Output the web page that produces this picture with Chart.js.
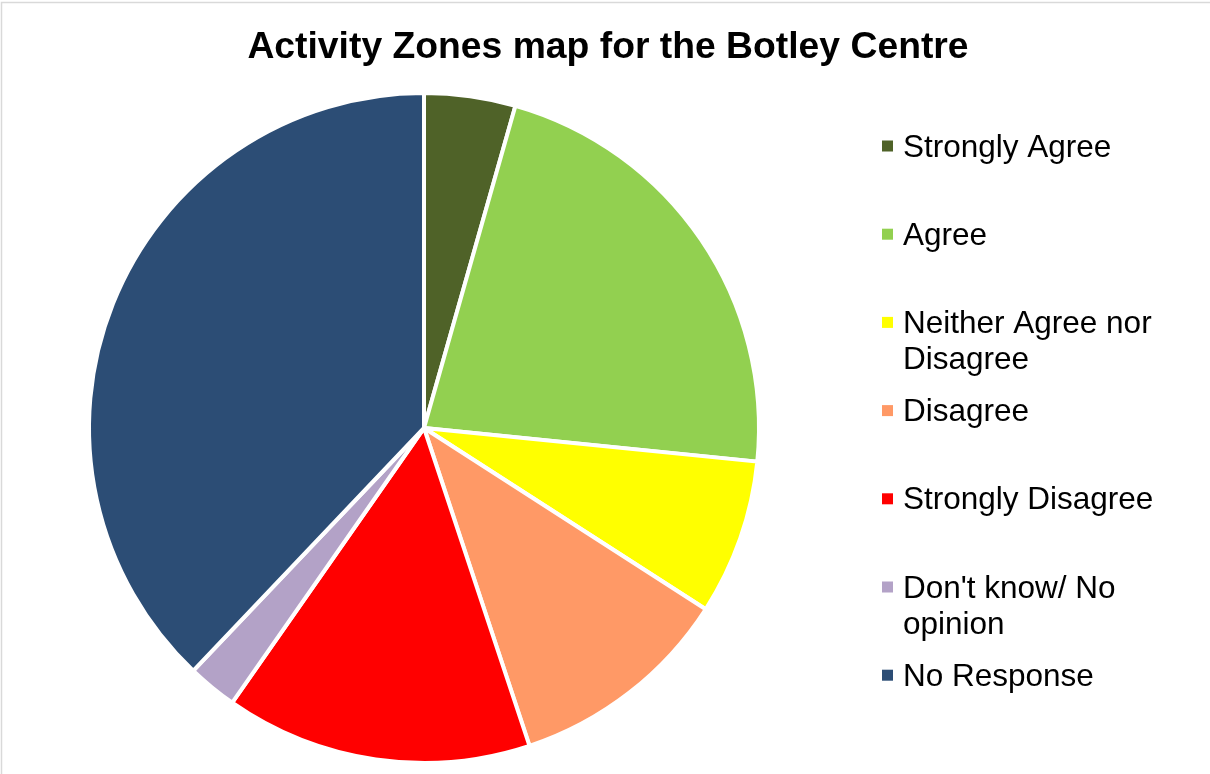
<!DOCTYPE html>
<html>
<head>
<meta charset="utf-8">
<script src="https://cdn.jsdelivr.net/npm/chart.js@4/dist/chart.umd.min.js"></script>
<style>
  html, body { margin: 0; padding: 0; background: #fff; }
  #wrap { width: 1210px; height: 774px; position: relative; }
</style>
</head>
<body>
<div id="wrap"><canvas id="myChart"></canvas></div>
<script>
const chartTitle = 'Activity Zones map for the Botley Centre';
const categories = [
    'Strongly Agree',
    'Agree',
    'Neither Agree nor Disagree',
    'Disagree',
    'Strongly Disagree',
    "Don't know/ No opinion",
    'No Response'
];
const shares = [4.4, 22.2, 7.5, 10.8, 14.8, 2.4, 37.9];
const sliceColors = [
    '#4F6228',
    '#92D050',
    '#FFFF00',
    '#FF9966',
    '#FF0000',
    '#B3A2C7',
    '#2C4D75'
];

const fontFamily = '"Liberation Sans", Arial, sans-serif';

// title, side legend and the thin frame are drawn by hand
const decorations = {
    id: 'decorations',
    afterDraw(chart) {
        const ctx = chart.ctx;
        ctx.save();

        ctx.strokeStyle = '#d9d9d9';
        ctx.lineWidth = 1.5;
        ctx.strokeRect(1.5, 2.5, 1220, 800);

        ctx.fillStyle = '#000';
        ctx.font = 'bold 37.3px ' + fontFamily;
        ctx.textAlign = 'center';
        ctx.textBaseline = 'alphabetic';
        ctx.fillText(chartTitle, 608, 58);

        ctx.font = '31.5px ' + fontFamily;
        ctx.textAlign = 'left';
        const labels = chart.data.labels;
        const colors = chart.data.datasets[0].backgroundColor;
        for (let i = 0; i < labels.length; i++) {
            const cy = 146 + i * 88.2;
            ctx.fillStyle = colors[i];
            ctx.fillRect(882, cy - 5.5, 11, 11);

            // wrap the label like the office legend does
            const words = labels[i].split(' ');
            const lines = [];
            let line = '';
            words.forEach(function (w) {
                const test = line ? line + ' ' + w : w;
                if (ctx.measureText(test).width > 290 && line) {
                    lines.push(line);
                    line = w;
                } else {
                    line = test;
                }
            });
            lines.push(line);
            ctx.fillStyle = '#000';
            lines.forEach(function (l, k) {
                ctx.fillText(l, 903, cy + 10.5 + k * 36);
            });
        }
        ctx.restore();
    }
};

new Chart('myChart', {
    type: 'pie',
    data: {
        labels: categories,
        datasets: [{
            data: shares,
            backgroundColor: sliceColors,
            borderColor: '#ffffff',
            borderWidth: 4,
            hoverOffset: 0,
            hoverBorderWidth: 4
        }]
    },
    options: {
        responsive: true,
        maintainAspectRatio: false,
        animation: false,
        layout: {
            padding: { left: 87, right: 449, top: 91, bottom: 9 }
        },
        plugins: {
            legend: { display: false },
            title: { display: false },
            tooltip: { enabled: false }
        }
    },
    plugins: [decorations]
});
</script>
</body>
</html>
